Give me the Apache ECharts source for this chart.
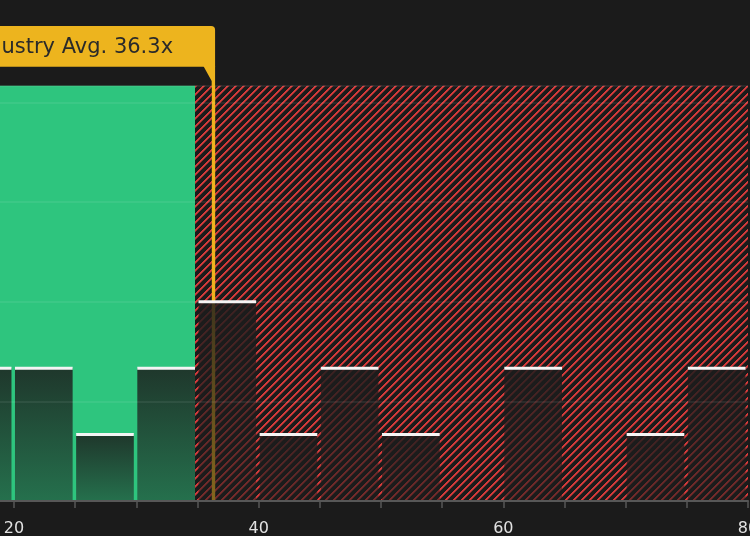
<!DOCTYPE html>
<html>
<head>
<meta charset="utf-8">
<script src="https://cdn.jsdelivr.net/npm/echarts@6/dist/echarts.min.js"></script>
<style>html,body{margin:0;padding:0;background:#1b1b1b;}#c{width:750px;height:536px;}</style>
</head>
<body>
<div id="c"></div>
<script>
// ---- data ----
var binStarts = [15, 20, 25, 30, 35, 40, 45, 50, 55, 60, 65, 70, 75];
var counts    = [2, 2, 1, 2, 3, 1, 2, 1, 0, 2, 0, 1, 2];
var binWidth = 5;
var industryAvg = 36.3;
var fairSplit = 34.8;
var avgLabel = 'Industry Avg. 36.3x';
var tickLabels = [20, 40, 60, 80];

// ---- hatch pattern (crisp diagonal stripes) ----
var pc = document.createElement('canvas');
pc.width = 8; pc.height = 8;
var g = pc.getContext('2d');
g.fillStyle = '#1b1b1b'; g.fillRect(0, 0, 8, 8);
for (var py = 0; py < 8; py++) {
  for (var px = 0; px < 8; px++) {
    var m = (px + py) % 8;
    if (m === 0 || m === 1) { g.fillStyle = '#d63b3b'; g.fillRect(px, py, 1, 1); }
    else if (m === 2) { g.fillStyle = '#8a2e2e'; g.fillRect(px, py, 1, 1); }
  }
}

var barData = [];
for (var i = 0; i < binStarts.length; i++) {
  if (counts[i] > 0) barData.push([binStarts[i], binStarts[i] + binWidth, counts[i]]);
}

var chart = echarts.init(document.getElementById('c'));
chart.setOption({
  backgroundColor: '#1b1b1b',
  animation: false,
  grid: { left: -47.2, right: 2, top: 85.8, bottom: 35, containLabel: false, outerBoundsMode: 'none' },
  xAxis: {
    type: 'value', min: 15, max: 80, interval: 5,
    axisLine: { lineStyle: { color: '#575757', width: 2 } },
    axisTick: { length: 7, lineStyle: { color: '#575757', width: 1.5 } },
    axisLabel: {
      color: '#e2e2e2', fontSize: 16, fontFamily: 'DejaVu Sans', margin: 20,
      hideOverlap: false,
      formatter: function (v) { return tickLabels.indexOf(v) >= 0 ? String(v) : ''; }
    },
    splitLine: { show: false }, z: 12
  },
  yAxis: {
    type: 'value', min: 0, max: 6.25, interval: 1.5,
    axisLine: { show: false }, axisTick: { show: false }, axisLabel: { show: false },
    splitLine: { lineStyle: { color: 'rgba(255,255,255,0.09)', width: 1.5 } },
    z: 11
  },
  series: [
    {
      type: 'line', data: [], silent: true, z: 1,
      markArea: {
        silent: true, z: 1,
        data: [
          [{ xAxis: 'min', itemStyle: { color: '#2ec57e' } }, { xAxis: fairSplit }],
          [{ xAxis: fairSplit, itemStyle: { color: { image: pc, repeat: 'repeat' } } }, { xAxis: 'max' }]
        ]
      }
    },
    {
      type: 'line', data: [], silent: true, z: 3,
      markLine: {
        silent: true, z: 3, symbol: ['none', 'none'],
        label: { show: false },
        lineStyle: { color: '#edb41e', width: 3.4, type: 'solid' },
        data: [{ xAxis: industryAvg }]
      }
    },
    {
      type: 'custom', z: 8, silent: true,
      data: barData,
      renderItem: function (params, api) {
        var p0 = api.coord([api.value(0), api.value(2)]);
        var p1 = api.coord([api.value(1), 0]);
        var x0 = p0[0] + 1, x1 = p1[0] - 2.5;
        return {
          type: 'group',
          children: [
            {
              type: 'rect',
              shape: { x: x0, y: p0[1], width: x1 - x0, height: p1[1] - p0[1] },
              style: {
                fill: new echarts.graphic.LinearGradient(0, 0, 0, 1, [
                  { offset: 0, color: 'rgba(28,28,28,0.84)' },
                  { offset: 1, color: 'rgba(28,28,28,0.5)' }
                ])
              }
            },
            {
              type: 'rect',
              shape: { x: x0, y: p0[1] - 1.5, width: x1 - x0, height: 3 },
              style: { fill: '#f4f4f4' }
            }
          ]
        };
      }
    }
  ]
});

var lx = chart.convertToPixel({ xAxisIndex: 0 }, industryAvg);
var xr = lx + 1.7;
chart.setOption({
  graphic: [
    {
      type: 'rect', z: 20,
      shape: { x: -300, y: 26, width: xr + 300, height: 40.7, r: [0, 4, 0, 0] },
      style: { fill: '#edb41e' }
    },
    {
      type: 'polygon', z: 20,
      shape: { points: [[xr - 11.7, 66], [xr, 66], [xr, 86.5], [xr - 3.4, 86.5], [xr - 3.4, 81]] },
      style: { fill: '#edb41e' }
    },
    {
      type: 'text', z: 21,
      style: {
        text: avgLabel, x: xr - 42, y: 48,
        align: 'right', verticalAlign: 'middle',
        font: '21px "DejaVu Sans"', fill: '#2a2a2a'
      }
    }
  ]
});
</script>
</body>
</html>
